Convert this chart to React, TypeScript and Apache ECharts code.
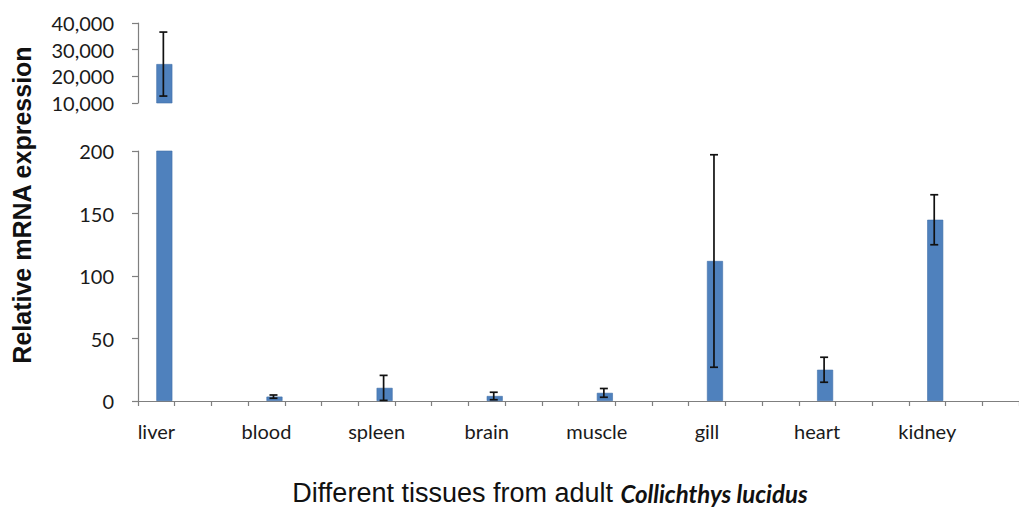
import React, { useEffect, useRef } from 'react';
import * as echarts from 'echarts';

// ---- data ----
const tissues = ['liver', 'blood', 'spleen', 'brain', 'muscle', 'gill', 'heart', 'kidney'];
const means = [24600, 3.5, 10.5, 4, 6.5, 112, 25, 145];
const sds = [12000, 1.3, 10, 3, 3.5, 85, 10, 20];
const lowerTicks = [0, 50, 100, 150, 200];
const upperTicks = [10000, 20000, 30000, 40000];
const slotsPerTissue = 3;

const BAR_W = 16;
const AXIS_COLOR = '#7f7f7f';
const LABEL_FONT = 'Lato, "Open Sans", sans-serif';

export default function App() {
  const ref = useRef<HTMLDivElement>(null);

  useEffect(() => {
    if (!ref.current) return;
    const chart = echarts.init(ref.current, undefined, { renderer: 'svg' });

    const categories: string[] = [];
    const barData: (number | null)[] = [];
    const emptyData: (number | null)[] = [];
    tissues.forEach((t, i) => {
      for (let k = 0; k < slotsPerTissue; k++) {
        categories.push(k === 0 ? t : '');
        barData.push(k === 0 ? means[i] : null);
        emptyData.push(null);
      }
    });
    const errData = tissues.map((_, i) => [i * slotsPerTissue, means[i], sds[i]]);

    const lo0 = lowerTicks[0];
    const hi0 = lowerTicks[lowerTicks.length - 1];
    const lo1 = upperTicks[0];
    const hi1 = upperTicks[upperTicks.length - 1];

    const makeErr = (lo: number, hi: number) => (params: any, api: any) => {
      const idx = api.value(0);
      const m = api.value(1);
      const s = api.value(2);
      if (m < lo || m > hi) return null;
      const x = api.coord([idx, m])[0] + BAR_W / 2 - 1;
      const yT = api.coord([idx, Math.min(m + s, hi)])[1];
      const yB = api.coord([idx, Math.max(m - s, lo)])[1];
      const c = 4;
      const st = { stroke: '#111', lineWidth: 1.7 };
      return {
        type: 'group',
        children: [
          { type: 'line', shape: { x1: x, y1: yT, x2: x, y2: yB }, style: st },
          { type: 'line', shape: { x1: x - c, y1: yT, x2: x + c, y2: yT }, style: st },
          { type: 'line', shape: { x1: x - c, y1: yB, x2: x + c, y2: yB }, style: st },
        ],
      };
    };

    const barStyle = { color: '#4F81BD', borderColor: '#3F6FA8', borderWidth: 0.6 };
    const tickStyle = { color: AXIS_COLOR, width: 1.2 };

    chart.setOption({
      animation: false,
      backgroundColor: '#ffffff',
      grid: [
        { left: 138, top: 151, width: 888, height: 250 },
        { left: 138, top: 23, width: 888, height: 80 },
      ],
      xAxis: [
        {
          type: 'category',
          gridIndex: 0,
          data: categories,
          axisLine: { lineStyle: { color: AXIS_COLOR, width: 1.2 } },
          axisTick: { show: true, interval: 0, length: 5, lineStyle: tickStyle },
          axisLabel: {
            interval: 0,
            margin: 20,
            color: '#1a1a1a',
            fontFamily: LABEL_FONT,
            fontSize: 20,
          },
        },
        {
          type: 'category',
          gridIndex: 1,
          data: categories,
          show: false,
        },
      ],
      yAxis: [
        {
          type: 'value',
          gridIndex: 0,
          min: lo0,
          max: hi0,
          interval: 50,
          axisLine: { show: true, lineStyle: { color: AXIS_COLOR, width: 1.2 } },
          axisTick: { show: true, length: 6, lineStyle: tickStyle },
          splitLine: { show: false },
          axisLabel: {
            margin: 24,
            color: '#1a1a1a',
            fontFamily: LABEL_FONT,
            fontSize: 20,
          },
        },
        {
          type: 'value',
          gridIndex: 1,
          min: lo1,
          max: hi1,
          interval: 10000,
          axisLine: { show: true, lineStyle: { color: AXIS_COLOR, width: 1.2 } },
          axisTick: { show: true, length: 6, lineStyle: tickStyle },
          splitLine: { show: false },
          axisLabel: {
            margin: 24,
            color: '#1a1a1a',
            fontFamily: LABEL_FONT,
            fontSize: 20,
            formatter: (v: number) => v.toLocaleString('en-US'),
          },
        },
      ],
      series: [
        { type: 'bar', xAxisIndex: 0, yAxisIndex: 0, data: emptyData, barWidth: BAR_W, barGap: '0%', silent: true },
        { type: 'bar', xAxisIndex: 0, yAxisIndex: 0, data: barData, barWidth: BAR_W, barGap: '0%', itemStyle: barStyle, clip: true },
        { type: 'bar', xAxisIndex: 1, yAxisIndex: 1, data: emptyData, barWidth: BAR_W, barGap: '0%', silent: true },
        { type: 'bar', xAxisIndex: 1, yAxisIndex: 1, data: barData, barWidth: BAR_W, barGap: '0%', itemStyle: barStyle, clip: true },
        { type: 'custom', xAxisIndex: 0, yAxisIndex: 0, data: errData, renderItem: makeErr(lo0, hi0), z: 5 },
        { type: 'custom', xAxisIndex: 1, yAxisIndex: 1, data: errData, renderItem: makeErr(lo1, hi1), z: 5 },
      ],
      graphic: [
        {
          type: 'text',
          x: 22,
          y: 205,
          rotation: Math.PI / 2,
          style: {
            text: 'Relative mRNA expression',
            fill: '#111',
            font: 'bold 25px "Liberation Sans", Arial, sans-serif',
            align: 'center',
            verticalAlign: 'middle',
          },
        },
        {
          type: 'text',
          x: 550,
          y: 493,
          style: {
            text: '{a|Different tissues from adult }{b|Collichthys lucidus}',
            align: 'center',
            verticalAlign: 'middle',
            rich: {
              a: { fontFamily: '"Liberation Sans", Arial, sans-serif', fontSize: 27, fill: '#111', color: '#111' },
              b: { fontFamily: 'Lato, sans-serif', fontSize: 24, fontWeight: 'bold', fontStyle: 'italic', fill: '#111', color: '#111' },
            },
          },
        },
      ],
    });

    return () => chart.dispose();
  }, []);

  return (
    <div
      ref={ref}
      style={{ position: 'absolute', left: 0, top: 0, width: 1019, height: 508 }}
    />
  );
}
